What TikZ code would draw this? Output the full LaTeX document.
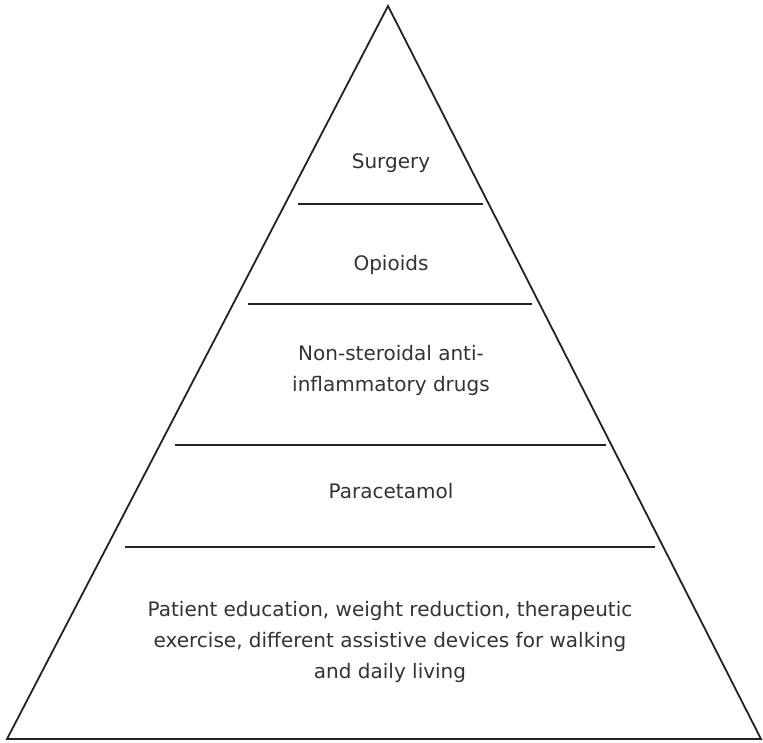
\documentclass[tikz,border=0pt]{standalone}
\usepackage{fontspec}
\setmainfont{DejaVu Sans}
\definecolor{txt}{HTML}{333333}
\definecolor{ln}{HTML}{222222}
\begin{document}
\begin{tikzpicture}[x=1pt,y=-1pt,
  edge/.style={draw=ln,line width=1.8pt,line join=miter},
  tier/.style={draw=ln,line width=1.4pt},
  lbl/.style={text=txt,font=\fontsize{20}{31}\selectfont,align=center,inner sep=0pt}]
\useasboundingbox (0,0) rectangle (763,742);
\coordinate (apex) at (388,6);
\coordinate (bl) at (7,739);
\coordinate (br) at (761,739);
\draw[edge] (bl) -- (apex) -- (br) -- cycle;
% tier separators
\coordinate (a1) at (298,204); \coordinate (b1) at (483,204);
\coordinate (a2) at (248,304); \coordinate (b2) at (532,304);
\coordinate (a3) at (175,445); \coordinate (b3) at (606,445);
\coordinate (a4) at (125,547); \coordinate (b4) at (655,547);
\draw[tier] (a1) -- (b1);
\draw[tier] (a2) -- (b2);
\draw[tier] (a3) -- (b3);
\draw[tier] (a4) -- (b4);
% labels
\node[lbl] (surg) at (391,163) {Surgery};
\node[lbl] (opi) at (391,265) {Opioids};
\node[lbl] (nsaid) at (391,370) {Non-steroidal anti-\\inflammatory drugs};
\node[lbl] (para) at (391,491) {Paracetamol};
\node[lbl] (base) at (390,642) {Patient education, weight reduction, therapeutic\\exercise, different assistive devices for walking\\and daily living};
\end{tikzpicture}
\end{document}
